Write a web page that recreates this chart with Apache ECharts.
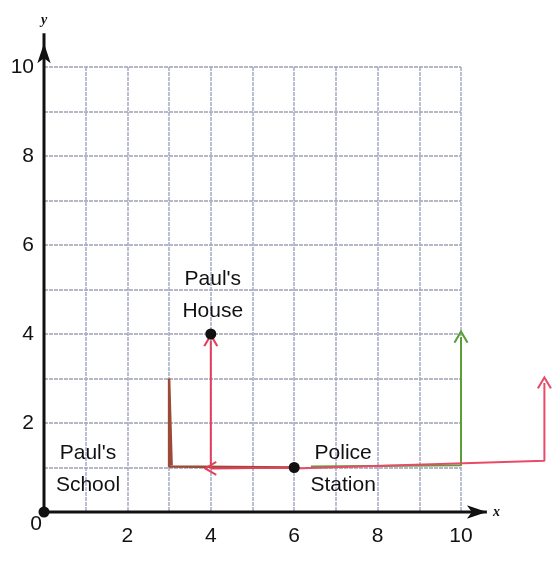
<!DOCTYPE html>
<html>
<head>
<meta charset="utf-8">
<script src="https://cdn.jsdelivr.net/npm/echarts@6/dist/echarts.min.js"></script>
<style>html,body{margin:0;padding:0;background:#fff}#c{width:556px;height:561px}</style>
</head>
<body>
<div id="c"></div>
<script>
// ---- data ----
const xTickLabels = [2, 4, 6, 8, 10];
const yTickLabels = [2, 4, 6, 8, 10];
const placeNames = ["Paul's\nSchool", "Paul's\nHouse", "Police\nStation"];
const placeX = [0, 4, 6];
const placeY = [0, 4, 1];
const brownPath = [[6, 1.0], [3, 1.02], [3, 3.0], [3.06, 1.05]];
const pinkLeftPath = [[6, 1.0], [4, 0.98]];
const pinkUpPath = [[4, 0.98], [4, 3.85]];
const greenPath = [[6.4, 1.02], [10, 1.05], [10, 3.93]];
const redPath = [[6, 0.98], [12, 1.15], [12, 2.9]];
const axisExtX = [[0, 0], [10.62, 0]];
const axisExtY = [[0, 0], [0, 10.76]];

const FONT = 'Liberation Sans';
const arrowV = 'path://M0,10 L5,0 L10,10';
const UNIT_PX = 41.7;          // px per x unit in the grid (417px / 10)
const OVER_MAX = 12.2;         // overlay x-range for marks that go past the grid

function pathSeries(name, pts, color, arrowRotate, width) {
  return {
    name, type: 'line', clip: false, silent: true, z: 3,
    xAxisIndex: 1, yAxisIndex: 1,
    lineStyle: { color, width: width || 2 },
    itemStyle: { color: 'rgba(0,0,0,0)', borderColor: color, borderWidth: 2 },
    showSymbol: true,
    data: pts.map((p, i) => i === pts.length - 1 && arrowRotate !== null
      ? { value: p, symbol: arrowV, symbolSize: [13, 11], symbolRotate: arrowRotate }
      : { value: p, symbol: 'none' })
  };
}

const labelOffsets = [[44, 0], [2, 4], [49, 44]];

const chart = echarts.init(document.getElementById('c'), null, { renderer: 'canvas' });
chart.setOption({
  backgroundColor: '#fff',
  animation: false,
  grid: [
    { left: 44, right: 95, top: 67, bottom: 49 },
    { left: 44, right: 556 - 44 - OVER_MAX * UNIT_PX, top: 67, bottom: 49 }
  ],
  xAxis: [{
    type: 'value', min: 0, max: 10, interval: 1, gridIndex: 0,
    name: 'x', nameLocation: 'end', nameGap: 32,
    nameTextStyle: { fontFamily: 'Liberation Serif', fontStyle: 'italic', fontWeight: 'bold', fontSize: 14, color: '#111', padding: [8, 0, 0, 0] },
    axisLine: { show: false },
    axisTick: { show: false },
    axisLabel: {
      fontFamily: FONT, fontSize: 21, color: '#111', margin: 14,
      formatter: v => xTickLabels.includes(v) ? String(v) : ''
    },
    splitLine: { show: true, lineStyle: { color: '#a4aac8', type: [4, 1], width: 1.5 } }
  }, {
    type: 'value', min: 0, max: OVER_MAX, gridIndex: 1, show: false
  }],
  yAxis: [{
    type: 'value', min: 0, max: 10, interval: 1, gridIndex: 0,
    name: 'y', nameLocation: 'end', nameGap: 40,
    nameTextStyle: { fontFamily: 'Liberation Serif', fontStyle: 'italic', fontWeight: 'bold', fontSize: 14, color: '#111', align: 'center' },
    axisLine: { show: false },
    axisTick: { show: false },
    axisLabel: {
      fontFamily: FONT, fontSize: 21, color: '#111', margin: 10,
      formatter: v => yTickLabels.includes(v) ? String(v) : ''
    },
    splitLine: { show: true, lineStyle: { color: '#9fa1b2', type: [4, 1], width: 1.5 } }
  }, {
    type: 'value', min: 0, max: 10, gridIndex: 1, show: false
  }],
  series: [
    {
      name: 'axisX', type: 'line', clip: false, silent: true, z: 4,
      xAxisIndex: 1, yAxisIndex: 1,
      lineStyle: { color: '#111', width: 3 }, itemStyle: { color: '#111' },
      data: [{ value: axisExtX[0], symbol: 'none' }, { value: axisExtX[1], symbol: 'arrow', symbolSize: [10, 20], symbolRotate: -90 }]
    },
    {
      name: 'axisY', type: 'line', clip: false, silent: true, z: 4,
      xAxisIndex: 1, yAxisIndex: 1,
      lineStyle: { color: '#111', width: 3 }, itemStyle: { color: '#111' },
      data: [{ value: axisExtY[0], symbol: 'none' }, { value: axisExtY[1], symbol: 'arrow', symbolSize: [10, 20], symbolRotate: 0, symbolOffset: [0, 10] }]
    },
    pathSeries('brown', brownPath, '#9c4a38', null, 2.5),
    pathSeries('pinkLeft', pinkLeftPath, '#e0405c', 90),
    pathSeries('pinkUp', pinkUpPath, '#e0405c', 0),
    pathSeries('green', greenPath, '#5a9e38', 0),
    pathSeries('red', redPath, '#e84a68', 0),
    {
      name: 'places', type: 'scatter', clip: false, z: 6,
      xAxisIndex: 1, yAxisIndex: 1,
      symbol: 'circle', symbolSize: 11,
      itemStyle: { color: '#111', opacity: 1 },
      data: placeNames.map((n, i) => ({
        value: [placeX[i], placeY[i]],
        label: {
          show: true, formatter: n, position: 'top', offset: labelOffsets[i],
          fontFamily: FONT, fontSize: 21, color: '#111', lineHeight: 32, align: 'center',
          textBorderWidth: 0
        }
      }))
    },
    {
      name: 'origin', type: 'scatter', clip: false, z: 6, symbolSize: 0,
      xAxisIndex: 1, yAxisIndex: 1,
      itemStyle: { color: 'rgba(0,0,0,0)', opacity: 1 },
      data: [{ value: [0, 0], label: { show: true, formatter: '0', position: 'inside', offset: [-8, 12], fontFamily: FONT, fontSize: 21, color: '#111', textBorderWidth: 0 } }]
    }
  ]
});
</script>
</body>
</html>
